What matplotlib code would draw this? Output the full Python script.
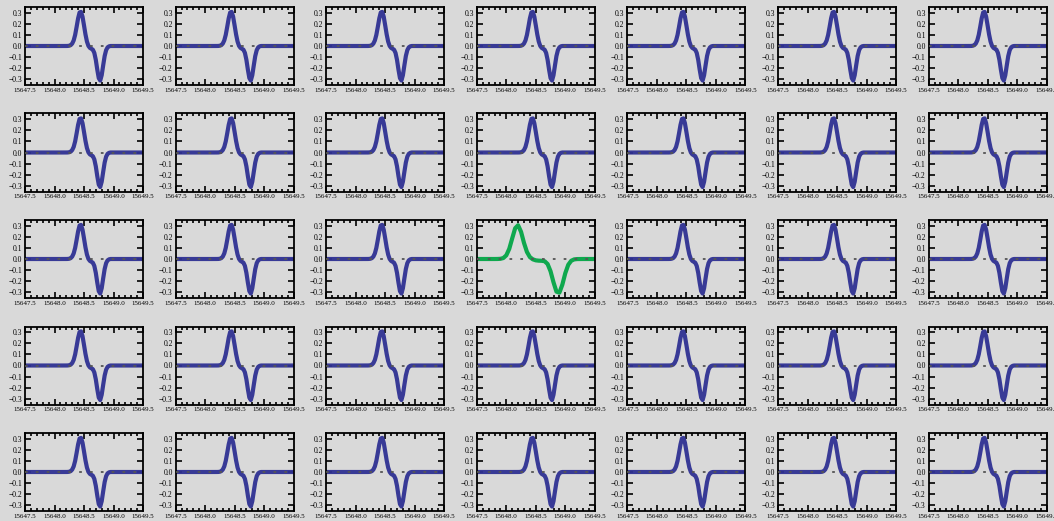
import numpy as np
import matplotlib
matplotlib.use("Agg")
import matplotlib.pyplot as plt
from matplotlib.ticker import MultipleLocator, FuncFormatter

plt.rcParams['font.family'] = ['Liberation Serif', 'DejaVu Serif']

# wavelength grid and observed profile (blue panels)
wl_blue = [15647.5, 15647.8, 15648.0, 15648.1, 15648.2, 15648.225, 15648.25, 15648.275,
           15648.3, 15648.325, 15648.35, 15648.375, 15648.4, 15648.425, 15648.45,
           15648.475, 15648.5, 15648.525, 15648.55, 15648.575, 15648.6, 15648.625,
           15648.65, 15648.675, 15648.7, 15648.725, 15648.75, 15648.775, 15648.8,
           15648.825, 15648.85, 15648.875, 15648.9, 15648.925, 15648.95, 15649.0,
           15649.2, 15649.5]
v_blue = [0.0, 0.0, 0.0, 0.0, 0.0002, 0.0006, 0.0025, 0.008,
          0.022, 0.050, 0.100, 0.172, 0.248, 0.301, 0.306,
          0.263, 0.185, 0.104, 0.040, 0.001, -0.017, -0.025,
          -0.033, -0.062, -0.124, -0.212, -0.288, -0.310, -0.262,
          -0.174, -0.090, -0.037, -0.012, -0.003, 0.0, 0.0,
          0.0, 0.0]

# highlighted profile (green panel)
wl_green = [15647.5, 15647.7, 15647.8, 15647.85, 15647.9, 15647.95, 15648.0, 15648.05,
            15648.1, 15648.15, 15648.2, 15648.25, 15648.3, 15648.35, 15648.4,
            15648.45, 15648.5, 15648.55, 15648.6, 15648.65, 15648.7, 15648.75,
            15648.8, 15648.85, 15648.9, 15648.95, 15649.0, 15649.05, 15649.1,
            15649.15, 15649.2, 15649.3, 15649.5]
v_green = [0.0, 0.0, 0.0, 0.0003, 0.0017, 0.0087, 0.033, 0.091,
           0.185, 0.276, 0.303, 0.244, 0.144, 0.063, 0.017,
           -0.003, -0.012, -0.015, -0.016, -0.020, -0.045, -0.110,
           -0.209, -0.293, -0.302, -0.230, -0.127, -0.052, -0.016,
           -0.0035, -0.0006, 0.0, 0.0]

n_rows, n_cols = 5, 7
highlight = (2, 3)


def fmt(v, pos):
    return ('%.1f' % v).replace('-', '\u2212')


W, H = 1054, 521
fig = plt.figure(figsize=(W / 100, H / 100), dpi=100)
fig.patch.set_facecolor('#d9d9d9')

ax_w, ax_h = 118, 78
for r in range(n_rows):
    for c in range(n_cols):
        left = 25 + 150.6 * c
        top = 7 + 106.5 * r
        ax = fig.add_axes([left / W, 1 - (top + ax_h) / H, ax_w / W, ax_h / H])
        ax.set_facecolor('none')
        if (r, c) == highlight:
            ax.plot(wl_green, v_green, color='#0fa84e', lw=3.0, zorder=2)
        else:
            ax.plot(wl_blue, v_blue, color='#2f3193', lw=3.0, alpha=0.95, zorder=2)
        ax.axhline(0, color='#555555', lw=1.3, ls=(0, (1.5, 4.5)), zorder=3)
        ax.set_xlim(15647.5, 15649.5)
        ax.set_ylim(-0.35, 0.35)
        ax.xaxis.set_major_locator(MultipleLocator(0.5))
        ax.xaxis.set_minor_locator(MultipleLocator(0.1))
        ax.yaxis.set_major_locator(MultipleLocator(0.1))
        ax.xaxis.set_major_formatter(FuncFormatter(fmt))
        ax.yaxis.set_major_formatter(FuncFormatter(fmt))
        ax.tick_params(which='both', direction='in', top=True, right=True,
                       width=1.2, pad=2, colors='black')
        ax.tick_params(axis='x', labelsize=5)
        ax.tick_params(axis='y', labelsize=5.5)
        ax.tick_params(which='major', length=4.5)
        ax.tick_params(which='minor', length=2.5)
        for s in ax.spines.values():
            s.set_linewidth(1.3)

fig.savefig('out.png', dpi=100, facecolor=fig.get_facecolor())
